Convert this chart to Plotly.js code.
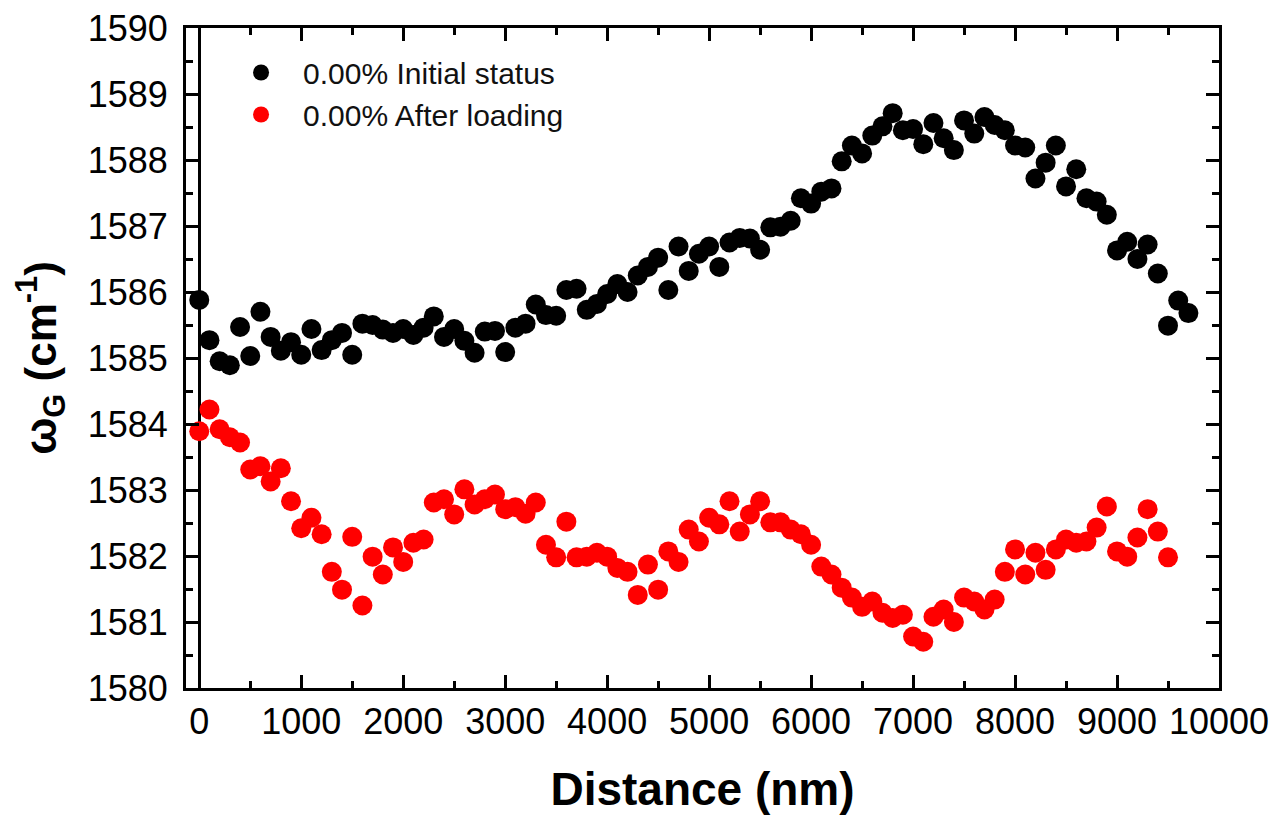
<!DOCTYPE html>
<html>
<head>
<meta charset="utf-8">
<script src="https://cdn.plot.ly/plotly-3.0.1.min.js"></script>
<style>html,body{margin:0;padding:0;background:#fff;}#chart{width:1279px;height:820px;}</style>
</head>
<body>
<div id="chart"></div>
<script>
// Distance (nm)
const distInitial = [];
for (let i = 0; i <= 97; i++) distInitial.push(i * 100);
const distLoading = [];
for (let i = 0; i <= 95; i++) distLoading.push(i * 100);

// ω_G (cm^-1), 0.00% Initial status
const wInitial = [
  1585.88, 1585.27, 1584.95, 1584.89, 1585.47, 1585.03, 1585.70, 1585.32, 1585.11, 1585.24,
  1585.05, 1585.44, 1585.12, 1585.27, 1585.38, 1585.05, 1585.52, 1585.50, 1585.43, 1585.38,
  1585.44, 1585.35, 1585.46, 1585.63, 1585.32, 1585.44, 1585.26, 1585.08, 1585.40, 1585.41,
  1585.09, 1585.46, 1585.52, 1585.81, 1585.65, 1585.64, 1586.03, 1586.05, 1585.73, 1585.82,
  1585.97, 1586.12, 1586.00, 1586.25, 1586.38, 1586.52, 1586.03, 1586.69, 1586.32, 1586.58,
  1586.69, 1586.38, 1586.75, 1586.82, 1586.81, 1586.64, 1586.98, 1586.99, 1587.08, 1587.42,
  1587.34, 1587.52, 1587.57, 1587.98, 1588.22, 1588.10, 1588.37, 1588.51, 1588.71, 1588.45,
  1588.47, 1588.24, 1588.56, 1588.33, 1588.15, 1588.60, 1588.40, 1588.65, 1588.53, 1588.45,
  1588.22, 1588.19, 1587.72, 1587.96, 1588.22, 1587.60, 1587.86, 1587.42, 1587.37, 1587.17,
  1586.63, 1586.76, 1586.50, 1586.72, 1586.28, 1585.49, 1585.87, 1585.68
];

// ω_G (cm^-1), 0.00% After loading
const wLoading = [
  1583.89, 1584.22, 1583.92, 1583.80, 1583.72, 1583.31, 1583.36, 1583.13, 1583.33, 1582.83,
  1582.42, 1582.58, 1582.33, 1581.76, 1581.49, 1582.29, 1581.25, 1581.99, 1581.72, 1582.13,
  1581.91, 1582.20, 1582.25, 1582.81, 1582.86, 1582.63, 1583.01, 1582.78, 1582.86, 1582.93,
  1582.71, 1582.74, 1582.64, 1582.81, 1582.17, 1581.98, 1582.52, 1581.98, 1581.99, 1582.05,
  1581.99, 1581.82, 1581.76, 1581.41, 1581.87, 1581.49, 1582.07, 1581.91, 1582.40, 1582.22,
  1582.58, 1582.48, 1582.83, 1582.37, 1582.63, 1582.83, 1582.51, 1582.51, 1582.40, 1582.33,
  1582.17, 1581.84, 1581.72, 1581.52, 1581.37, 1581.23, 1581.31, 1581.14, 1581.06, 1581.11,
  1580.78, 1580.70, 1581.08, 1581.19, 1581.00, 1581.37, 1581.31, 1581.19, 1581.34, 1581.76,
  1582.10, 1581.72, 1582.05, 1581.79, 1582.10, 1582.25, 1582.20, 1582.22, 1582.43, 1582.75,
  1582.07, 1581.99, 1582.28, 1582.71, 1582.37, 1581.98
];

const seriesNames = ["0.00% Initial status", "0.00% After loading"];
const seriesColors = ["#000000", "#ff0000"];

const FONT = "Liberation Sans, Arial, sans-serif";

const traces = [
  {
    x: distInitial, y: wInitial, name: seriesNames[0], type: "scatter", mode: "markers",
    marker: {color: seriesColors[0], size: 20, line: {width: 0}}
  },
  {
    x: distLoading, y: wLoading, name: seriesNames[1], type: "scatter", mode: "markers",
    marker: {color: seriesColors[1], size: 20, line: {width: 0}}
  }
];

const axisCommon = {
  showline: true, linecolor: "#000", linewidth: 3, mirror: "ticks",
  ticks: "inside", ticklen: 13, tickwidth: 3, tickcolor: "#000",
  showgrid: false, tickformat: "d",
  tickfont: {family: FONT, size: 36, color: "#000"}
};

const layout = {
  width: 1279, height: 820,
  margin: {l: 186, r: 60, t: 28, b: 132},
  paper_bgcolor: "#fff", plot_bgcolor: "#fff",
  showlegend: true,
  legend: {
    x: 0.032, y: 0.972, xanchor: "left", yanchor: "top",
    bgcolor: "rgba(0,0,0,0)", borderwidth: 0,
    font: {family: FONT, size: 30, color: "#111"},
    itemwidth: 74, tracegroupgap: 0
  },
  xaxis: Object.assign({}, axisCommon, {
    range: [-130, 10000], tick0: 0, dtick: 1000,
    zeroline: true, zerolinecolor: "#000", zerolinewidth: 3,
    minor: {ticks: "inside", dtick: 500, ticklen: 7, tickwidth: 3, tickcolor: "#000", showgrid: false},
    title: {text: "Distance (nm)", font: {family: FONT, size: 46, color: "#000", weight: "bold"}, standoff: 32}
  }),
  yaxis: Object.assign({}, axisCommon, {
    range: [1580, 1590], tick0: 1580, dtick: 1,
    zeroline: false, ticklabelstandoff: 8,
    minor: {ticks: "inside", dtick: 0.5, ticklen: 7, tickwidth: 3, tickcolor: "#000", showgrid: false},
    title: {text: "ω<sub>G</sub> (cm<sup>-1</sup>)", font: {family: FONT, size: 44, color: "#000", weight: "bold"}, standoff: 18}
  })
};

Plotly.newPlot("chart", traces, layout, {displayModeBar: false, staticPlot: true});
</script>
</body>
</html>
